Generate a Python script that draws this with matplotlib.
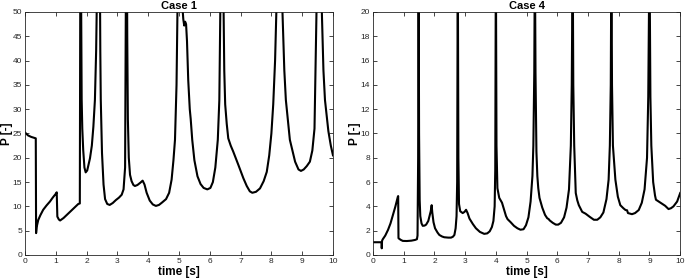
import matplotlib
matplotlib.use("Agg")
import matplotlib.pyplot as plt

plt.rcParams["font.family"] = ["Liberation Sans", "DejaVu Sans"]

# Case 1 (peaks run off the top of the axes)
case1_t = [0, 0.05, 0.1, 0.2, 0.3, 0.35, 0.36, 0.38, 0.43, 0.5, 0.59, 0.7, 0.81, 0.9, 1.0, 1.03,
           1.05, 1.1, 1.14, 1.25, 1.35, 1.5, 1.6, 1.73, 1.78, 1.8, 1.82, 1.84, 1.86, 1.89, 1.93,
           1.97, 2.02, 2.11, 2.17, 2.22, 2.27, 2.31, 2.35, 2.39, 2.43, 2.445, 2.46, 2.5, 2.55,
           2.6, 2.67, 2.75, 2.85, 2.95, 3.05, 3.14, 3.2, 3.25, 3.28, 3.30, 3.32, 3.34, 3.37,
           3.41, 3.46, 3.52, 3.57, 3.65, 3.75, 3.82, 3.88, 3.95, 4.05, 4.15, 4.25, 4.35, 4.45,
           4.58, 4.68, 4.76, 4.82, 4.87, 4.92, 4.96, 5.05, 5.1, 5.14, 5.17, 5.2, 5.23, 5.26, 5.3,
           5.35, 5.38, 5.43, 5.5, 5.6, 5.7, 5.8, 5.92, 6.02, 6.1, 6.18, 6.26, 6.31, 6.35, 6.395,
           6.44, 6.47, 6.5, 6.55, 6.6, 6.68, 6.76, 6.93, 7.09, 7.2, 7.3, 7.38, 7.5, 7.63, 7.75,
           7.85, 7.93, 8.0, 8.06, 8.12, 8.17, 8.26, 8.35, 8.42, 8.47, 8.6, 8.77, 8.88, 8.96, 9.05,
           9.15, 9.25, 9.33, 9.4, 9.47, 9.54, 9.63, 9.69, 9.74, 9.85, 9.93, 10.0]
case1_p = [25.2, 24.9, 24.6, 24.3, 24.1, 24.0, 4.5, 5.8, 7.2, 8.2, 9.3, 10.2, 11.0, 11.8, 12.6, 12.9,
           7.9, 7.3, 7.1, 7.6, 8.2, 9.1, 9.7, 10.5, 10.6, 70, 55, 32, 26, 21.6, 18,
           17.0, 17.4, 19.9, 22.5, 26.4, 31.9, 42, 60, 80, 60, 42, 32, 21, 14.5,
           11.5, 10.5, 10.3, 10.7, 11.3, 11.8, 12.4, 13.5, 18, 60, 80, 45, 28, 20,
           16.5, 15.2, 14.4, 14.2, 14.4, 14.9, 15.3, 14.5, 12.8, 11.2, 10.4, 10.1, 10.3, 10.8,
           11.5, 12.8, 15.5, 19.5, 23.7, 35, 55, 70, 52, 48.5, 47.2, 48.0, 47.5, 44, 36,
           30, 28, 23.7, 19.5, 16.2, 14.6, 13.8, 13.5, 13.8, 15, 18, 23.7, 31.9, 55, 80,
           55, 38, 31, 27, 24, 22.5, 21.3, 18.5, 15.8, 14.2, 13.1, 12.8, 13.0, 13.7, 15.2,
           17.1, 20.5, 25, 31, 40, 52, 80, 52, 38, 31.9, 23.7, 19.2, 17.6, 17.3, 17.6,
           18.3, 19.2, 21.5, 26, 52, 80, 52, 38, 31.9, 25.5, 22.5, 20.5]

# Case 4
case4_t = [0, 0.28, 0.285, 0.295, 0.3, 0.32, 0.4, 0.49, 0.57, 0.65, 0.73, 0.81, 0.82, 0.83, 0.9,
           0.97, 1.1, 1.25, 1.37, 1.43, 1.45, 1.47, 1.485, 1.50, 1.52, 1.54, 1.58, 1.62, 1.68,
           1.73, 1.8, 1.84, 1.88, 1.91, 1.93, 1.97, 2.02, 2.1, 2.16, 2.25, 2.32, 2.45, 2.54, 2.6,
           2.65, 2.69, 2.72, 2.74, 2.76, 2.78, 2.8, 2.84, 2.92, 2.98, 3.03, 3.08, 3.14, 3.25,
           3.35, 3.48, 3.62, 3.72, 3.8, 3.87, 3.92, 3.96, 3.98, 4.0, 4.02, 4.05, 4.11, 4.2, 4.27,
           4.33, 4.38, 4.48, 4.59, 4.7, 4.8, 4.9, 4.98, 5.06, 5.13, 5.19, 5.22, 5.25, 5.27, 5.29,
           5.32, 5.35, 5.38, 5.42, 5.51, 5.6, 5.67, 5.72, 5.75, 5.85, 5.95, 6.03, 6.12, 6.22,
           6.3, 6.38, 6.44, 6.47, 6.5, 6.52, 6.55, 6.6, 6.65, 6.7, 6.79, 6.81, 6.92, 7.05, 7.19,
           7.3, 7.4, 7.5, 7.6, 7.67, 7.71, 7.74, 7.76, 7.78, 7.81, 7.89, 7.97, 8.05, 8.15, 8.22,
           8.27, 8.3, 8.43, 8.53, 8.65, 8.75, 8.84, 8.92, 8.96, 9.0, 9.03, 9.06, 9.12, 9.18, 9.21,
           9.3, 9.42, 9.51, 9.62, 9.7, 9.78, 9.9, 10.0]
case4_p = [1.05, 1.05, 0.55, 1.15, 1.2, 1.3, 1.6, 2.07, 2.6, 3.3, 4.0, 4.8, 4.85, 1.38, 1.25,
           1.16, 1.15, 1.18, 1.24, 1.3, 1.6, 8, 25, 10, 4.5, 3.2, 2.6, 2.4, 2.42,
           2.5, 2.8, 3.2, 3.6, 4.1, 3.5, 2.7, 2.2, 1.85, 1.65, 1.52, 1.46, 1.43, 1.43, 1.5,
           1.65, 2.2, 3.2, 6, 25, 8, 4.2, 3.6, 3.45, 3.55, 3.72, 3.45, 3.0, 2.55,
           2.2, 1.9, 1.74, 1.78, 1.95, 2.3, 2.8, 4.0, 7, 25, 9, 5.5, 4.7, 4.3, 3.7,
           3.2, 2.95, 2.7, 2.4, 2.2, 2.08, 2.12, 2.45, 3.1, 4.4, 6.5, 9, 15, 25, 15,
           8.5, 6.5, 5.5, 4.7, 3.9, 3.3, 3.03, 2.95, 2.85, 2.65, 2.5, 2.5, 2.65, 3.1,
           3.9, 5.4, 9, 14, 25, 14, 9, 5.1, 4.5, 4.1, 3.64, 3.55, 3.4, 3.15, 2.9,
           2.9, 3.1, 3.5, 4.6, 6.2, 9, 14, 25, 14, 9, 6.2, 4.8, 4.1, 3.85, 3.7,
           3.68, 3.45, 3.36, 3.45, 3.7, 4.3, 5.4, 8, 13, 25, 13, 9, 6, 4.9, 4.55,
           4.4, 4.2, 4.05, 3.78, 3.85, 4.0, 4.4, 5.1]

panels = [
    ("Case 1", case1_t, case1_p, 50, 5, [0.0365, 0.0893, 0.4496, 0.8679]),
    ("Case 4", case4_t, case4_p, 20, 2, [0.5445, 0.0893, 0.4485, 0.8679]),
]

fig = plt.figure(figsize=(6.85, 2.8), dpi=100)
axcol = "#262626"
for title, t, p, ymax, ystep, pos in panels:
    ax = fig.add_axes(pos)
    ax.plot(t, p, color="black", linewidth=1.5)
    ax.set_xlim(0, 10)
    ax.set_ylim(0, ymax)
    ax.set_xticks(range(0, 11))
    ax.set_yticks(range(0, ymax + 1, ystep))
    ax.tick_params(direction="in", top=True, right=True, length=3, width=0.6,
                   labelsize=6, colors=axcol, pad=2)
    for s in ax.spines.values():
        s.set_linewidth(0.6)
        s.set_color(axcol)
    ax.set_title(title, fontsize=8, fontweight="bold", pad=2)
    ax.set_xlabel("time [s]", fontsize=8.5, fontweight="bold", labelpad=1)
    ax.set_ylabel("P [-]", fontsize=8.5, fontweight="bold", labelpad=0)

fig.savefig("out.png", dpi=100)
